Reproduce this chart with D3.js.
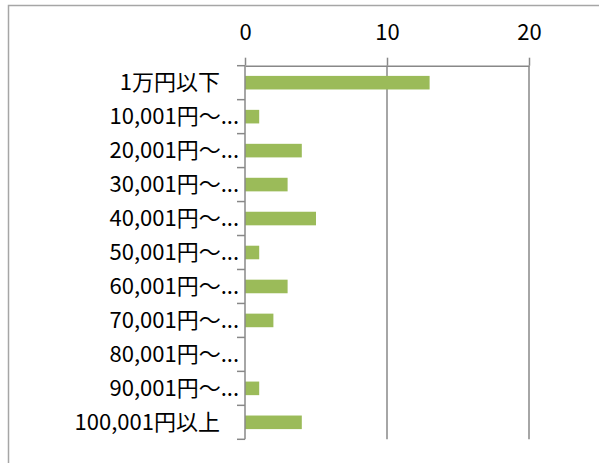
<!DOCTYPE html>
<html>
<head>
<meta charset="utf-8">
<script src="https://cdn.jsdelivr.net/npm/d3@7"></script>
<style>
  body { margin: 0; background: #fff; }
  text { font-family: "Noto Sans CJK JP", "Noto Sans", sans-serif; fill: #000; }
</style>
</head>
<body>
<div id="chart"></div>
<script>
// categories and counts
let categories = ['1万円以下', '10,001円～...', '20,001円～...', '30,001円～...', '40,001円～...',
    '50,001円～...', '60,001円～...', '70,001円～...', '80,001円～...', '90,001円～...', '100,001円以上'];
let values = [13, 1, 4, 3, 5, 1, 3, 2, 0, 1, 4];
let xTicks = [0, 10, 20];

let width = 599, height = 463;
let gridColor = '#888888';

let svg = d3.select('#chart')
    .append('svg')
    .attr('width', width)
    .attr('height', height);

// outer frame (runs off the right and bottom edge like the original)
svg.append('rect')
    .attr('x', 8.5).attr('y', 5.5)
    .attr('width', 700).attr('height', 600)
    .attr('fill', 'none')
    .attr('stroke', '#a6a6a6')
    .attr('stroke-width', 1.5);

let x = d3.scaleLinear().domain([0, 20]).range([245, 529]);
let y = d3.scaleBand().domain(categories).range([65.7, 439.3]).paddingInner(0).paddingOuter(0);

// vertical gridlines
svg.append('g')
    .selectAll('line')
    .data(xTicks.slice(1))
    .enter()
    .append('line')
    .attr('x1', d => x(d)).attr('x2', d => x(d))
    .attr('y1', y.range()[0]).attr('y2', y.range()[1])
    .attr('stroke', gridColor)
    .attr('stroke-width', 1.5);

// bars
let barH = y.bandwidth() * 0.4;
svg.append('g')
    .selectAll('rect')
    .data(values)
    .enter()
    .append('rect')
    .attr('x', x(0))
    .attr('y', (d, i) => y(categories[i]) + (y.bandwidth() - barH) / 2)
    .attr('width', d => x(d) - x(0))
    .attr('height', barH)
    .attr('fill', '#9bbb59');

// top axis
let xAxis = svg.append('g')
    .attr('transform', `translate(0,${y.range()[0]})`)
    .call(d3.axisTop(x).tickValues(xTicks).tickSize(8).tickSizeOuter(0).tickPadding(18));
xAxis.select('.domain').attr('stroke', gridColor).attr('stroke-width', 1.5);
xAxis.selectAll('.tick line').attr('stroke', gridColor).attr('stroke-width', 1.5);
xAxis.selectAll('.tick text')
    .style('font-size', '22px')
    .style('font-family', '"Noto Sans CJK JP", sans-serif');

// left axis: line plus ticks on the band edges
let yAxis = svg.append('g');
yAxis.append('line')
    .attr('x1', x(0)).attr('x2', x(0))
    .attr('y1', y.range()[0]).attr('y2', y.range()[1])
    .attr('stroke', gridColor).attr('stroke-width', 1.5);
let edges = categories.map(c => y(c)).concat([y.range()[1]]);
yAxis.selectAll('line.edge')
    .data(edges)
    .enter()
    .append('line')
    .attr('class', 'edge')
    .attr('x1', x(0) - 8).attr('x2', x(0))
    .attr('y1', d => d).attr('y2', d => d)
    .attr('stroke', gridColor).attr('stroke-width', 1.5);

// category labels; truncated ones run right up to the ticks
yAxis.selectAll('text')
    .data(categories)
    .enter()
    .append('text')
    .attr('x', d => d.endsWith('...') ? 239 : 220)
    .attr('y', d => y(d) + y.bandwidth() / 2)
    .attr('dy', '0.35em')
    .attr('text-anchor', 'end')
    .style('font-size', '22px')
    .text(d => d);
</script>
</body>
</html>
